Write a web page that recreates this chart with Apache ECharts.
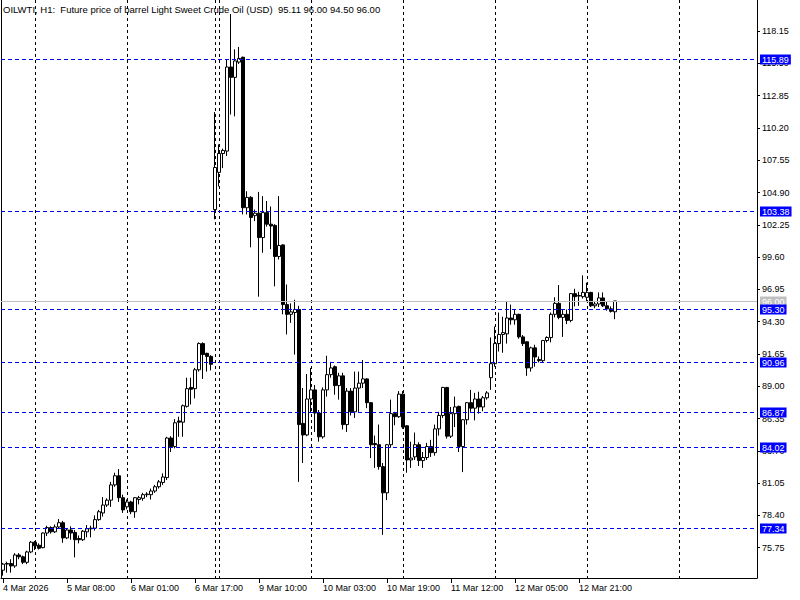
<!DOCTYPE html>
<html><head><meta charset="utf-8">
<script src="https://cdn.jsdelivr.net/npm/echarts@6/dist/echarts.min.js"></script>
<style>html,body{margin:0;padding:0;background:#fff}#c{width:800px;height:600px}</style>
</head><body><div id="c"></div>
<script>
const titleText = 'OILWTI, H1:  Future price of barrel Light Sweet Crude Oil (USD)  95.11 96.00 94.50 96.00';
// trading days: [day, first hour, last hour]
const days = [['4 Mar',15,22],['5 Mar',0,22],['6 Mar',0,21],['8 Mar',23,23],['9 Mar',0,22],['10 Mar',0,22],['11 Mar',0,22],['12 Mar',0,22],['13 Mar',0,22],['14 Mar',0,19]];
const firstLabel = '4 Mar 2026';
const xLabelTimes = ['4 Mar 15:00','5 Mar 08:00','6 Mar 01:00','6 Mar 17:00','9 Mar 10:00','10 Mar 03:00','10 Mar 19:00','11 Mar 12:00','12 Mar 05:00','12 Mar 21:00'];
const separators = ['5 Mar 00:00','6 Mar 00:00','8 Mar 23:00','9 Mar 00:00','10 Mar 00:00','11 Mar 00:00','12 Mar 00:00','13 Mar 00:00','14 Mar 00:00'];
const yTicks = [75.75,78.40,81.05,83.70,86.35,89.00,91.65,94.30,96.95,99.60,102.25,104.90,107.55,110.20,112.85,115.50,118.15];
const levels = [115.89,103.38,95.30,90.96,86.87,84.02,77.34];
const bidPrice = 96.00;

const opens = [73.9,74.4,74.45,74.25,75.15,75.0,74.55,75.4,76.2,75.95,75.75,76.95,77.4,77.05,77.45,77.8,76.55,77.2,77.0,76.5,76.4,77.05,77.3,77.35,78.05,78.6,79.25,79.65,80.9,81.65,79.85,79.1,79.5,78.7,79.7,79.8,80.1,80.1,80.4,80.75,81.1,81.5,84.75,84.05,86.15,86.05,87.35,88.9,88.8,90.35,92.5,91.7,91.45,
103.5,106.55,108.1,108.3,115.2,114.35,115.6,116.0,103.65,104.5,103.0,103.2,101.2,103.25,102.3,102.2,99.65,100.6,95.7,94.9,95.05,95.3,85.95,85.0,
87.95,88.7,86.8,84.85,88.7,89.95,90.6,89.05,89.85,85.85,88.6,86.9,88.85,89.25,89.6,87.65,84.3,84.2,82.4,80.25,84.2,86.75,86.5,
88.35,85.75,82.95,83.2,84.2,82.9,83.15,84.05,83.55,85.5,86.6,88.9,84.9,86.75,87.35,84.05,86.25,87.65,87.2,87.95,87.3,88.05,89.7,
90.85,92.5,93.25,93.3,94.6,94.45,94.9,93.05,92.65,90.5,92.15,91.2,91.1,92.75,93.0,94.9,95.8,94.65,94.9,94.4,96.6,96.45,96.35,
96.3,96.7,95.6,95.75,96.25,95.6,95.35,95.11];
const highs = [74.5,74.6,74.8,75.3,75.3,75.1,75.5,76.3,76.3,76.1,77.0,77.55,77.5,77.65,78.1,77.95,77.3,77.5,77.2,76.75,77.2,77.6,77.55,78.4,78.85,79.9,79.8,81.15,81.9,82.2,80.1,79.7,79.6,79.9,80.0,80.25,80.3,80.6,80.9,81.3,81.85,84.85,84.9,86.3,86.5,87.5,89.7,89.7,90.5,92.6,92.6,91.75,91.55,
111.5,108.85,108.5,115.85,119.55,116.65,116.85,116.05,105.0,104.6,103.5,104.95,104.6,104.2,103.75,102.3,104.6,100.65,97.35,95.8,96.1,95.6,88.85,90.0,
90.5,89.1,87.05,88.9,91.5,91.0,90.7,90.1,90.1,88.85,88.85,90.2,90.2,91.15,89.65,87.7,84.95,85.85,82.7,84.25,87.9,86.9,88.6,
88.6,85.8,84.45,85.2,84.4,83.6,84.35,84.6,85.85,86.9,88.95,88.95,87.3,88.15,87.4,86.3,87.7,88.7,88.45,88.55,88.2,88.6,93.0,
93.9,95.05,94.7,96.0,95.7,95.3,94.95,93.2,92.65,92.25,92.4,91.45,92.8,93.1,95.05,96.3,97.3,95.3,95.3,96.65,97.0,96.75,98.1,
97.5,96.75,95.95,96.7,96.7,95.95,95.55,96.0];
const lows = [73.45,73.7,73.7,74.1,74.8,74.4,74.4,75.3,75.55,75.6,75.7,76.7,76.9,76.95,77.35,76.15,76.45,76.4,74.95,76.1,76.3,76.6,76.6,77.15,77.95,78.3,79.1,79.1,80.75,79.5,78.6,78.9,78.5,78.2,79.3,79.6,79.9,79.7,80.25,80.6,80.9,81.3,83.6,83.9,84.85,84.85,87.25,87.5,88.0,90.2,89.6,90.2,90.3,
102.7,105.4,106.9,107.9,111.3,111.15,115.45,103.1,103.1,100.4,102.55,96.35,99.95,102.1,100.25,97.2,99.4,94.9,93.25,94.2,91.6,81.15,82.7,84.9,
86.8,85.25,84.45,84.7,88.15,89.7,88.3,87.9,85.45,85.25,86.6,86.4,86.9,88.85,87.2,83.1,82.3,82.15,76.8,79.65,83.95,85.8,86.4,
85.5,81.9,82.3,82.95,82.45,82.3,82.95,83.2,83.3,84.95,86.4,84.7,84.75,85.65,83.6,81.95,85.85,86.9,86.2,86.75,86.95,87.9,88.7,
90.6,91.85,91.75,92.5,94.05,94.05,92.9,92.3,89.85,90.2,90.6,90.95,90.95,92.6,92.6,94.65,94.5,93.05,94.1,94.25,95.55,95.6,96.2,
95.95,95.5,95.4,95.5,95.5,95.2,95.05,94.5];
const closes = [74.4,74.45,74.25,75.15,75.0,74.55,75.4,76.2,75.9,75.7,76.95,77.4,77.05,77.45,77.8,76.55,77.2,76.95,76.4,76.4,77.1,77.3,77.35,78.05,78.7,79.25,79.65,80.9,81.65,79.85,78.85,79.5,78.7,79.85,79.85,80.1,80.15,80.4,80.75,81.15,81.55,84.75,84.05,86.0,86.05,87.4,88.8,88.75,90.35,92.5,91.6,91.45,90.8,
106.95,108.1,108.35,115.2,114.35,115.7,115.9,103.65,104.5,102.85,103.2,101.2,103.25,102.3,102.15,99.65,100.55,95.7,94.9,95.1,95.3,85.85,85.0,87.95,
88.7,86.8,84.85,88.7,89.95,90.5,89.05,89.85,85.85,88.6,86.9,88.85,89.25,89.6,87.65,84.2,84.2,82.4,80.25,84.2,86.75,86.5,88.35,
85.65,82.95,83.1,84.2,82.9,83.15,84.05,83.55,85.5,86.6,88.9,84.9,86.75,87.3,84.05,86.25,87.65,87.2,87.95,87.3,88.05,88.45,90.85,
92.5,93.25,93.4,94.6,94.45,94.9,93.05,92.5,90.5,92.15,91.4,91.1,92.75,93.0,94.9,95.8,94.65,94.9,94.4,96.6,96.35,96.4,96.7,
96.7,95.6,95.75,96.25,95.6,95.35,95.15,96.0];

const categories = [];
days.forEach(([d, a, b]) => { for (let h = a; h <= b; h++) categories.push(d + ' ' + String(h).padStart(2, '0') + ':00'); });
const candles = opens.map((o, i) => [o, closes[i], lows[i], highs[i]]);

const FONT = "'Liberation Sans', Arial, sans-serif";
const YMIN = 73.26, YMAX = 120.70;
// horizontal price lines: [x placeholder, price, kind]
const hLines = [[0, bidPrice, 'bid']].concat(levels.map(v => [0, v, 'level']));
const vLines = separators.map(s => [s, YMIN]);

function renderHLine(params, api) {
  const cs = params.coordSys;
  const price = api.value(1);
  const isBid = hLines[params.dataIndex][2] === 'bid';
  const col = isBid ? 'rgb(192,192,192)' : 'rgb(0,0,255)';
  const y = Math.round(api.coord([0, price])[1]) + 0.5;
  return { type: 'group', children: [
    { type: 'line', shape: { x1: cs.x, y1: y, x2: cs.x + cs.width, y2: y },
      style: { stroke: col, lineWidth: 1, lineDash: isBid ? null : [4, 3], opacity: 1 }, z2: isBid ? 0 : 5 },
    { type: 'text', x: cs.x + cs.width + 3, y: y, z2: 10,
      style: { text: price.toFixed(2), fill: '#fff', backgroundColor: col, padding: [1, 2, 0, 2],
        fontSize: 9, fontFamily: FONT, verticalAlign: 'middle', align: 'left' } }
  ] };
}
function renderVLine(params, api) {
  const cs = params.coordSys;
  const x = Math.round(api.coord([api.value(0), YMIN])[0]) + 0.5;
  return { type: 'line', shape: { x1: x, y1: cs.y, x2: x, y2: cs.y + cs.height },
    style: { stroke: '#000', lineWidth: 1, lineDash: [3, 3] } };
}

const chart = echarts.init(document.getElementById('c'), null, { renderer: 'svg' });
chart.setOption({
  animation: false,
  backgroundColor: '#fff',
  title: { text: titleText, left: 3, top: 4, padding: 0, textStyle: { fontSize: 9.5, fontWeight: 'normal', color: '#000', fontFamily: FONT } },
  grid: { left: 1, right: 43, top: 0, bottom: 22, show: false },
  xAxis: {
    type: 'category', data: categories, boundaryGap: true,
    axisLine: { show: true, lineStyle: { color: '#000' } },
    axisTick: { show: true, alignWithLabel: true, length: 5, interval: (i, v) => xLabelTimes.includes(v), lineStyle: { color: '#000' } },
    axisLabel: { show: true, interval: (i, v) => xLabelTimes.includes(v), formatter: v => v === categories[0] ? firstLabel : v,
      align: 'left', margin: 5, color: '#000', fontSize: 9, fontFamily: FONT, hideOverlap: false },
    splitLine: { show: false }
  },
  yAxis: [{
    type: 'value', position: 'right', min: YMIN, max: YMAX, scale: true,
    splitLine: { show: false },
    axisLine: { show: true, lineStyle: { color: '#000' } },
    axisTick: { show: true, length: 3, customValues: yTicks, lineStyle: { color: '#000' } },
    axisLabel: { show: true, customValues: yTicks, formatter: v => Number(v).toFixed(2), color: '#000', fontSize: 9, fontFamily: FONT, margin: 5 }
  }, {
    type: 'value', position: 'left', min: YMIN, max: YMAX, scale: true,
    splitLine: { show: false }, axisTick: { show: false }, axisLabel: { show: false },
    axisLine: { show: true, lineStyle: { color: '#000' } }
  }],
  series: [{
    type: 'custom', data: vLines, renderItem: renderVLine, clip: false, silent: true, z: 1
  }, {
    type: 'candlestick', data: candles, barWidth: 3, z: 3,
    itemStyle: { color: '#fff', color0: '#000', borderColor: '#000', borderColor0: '#000', borderWidth: 1 }
  }, {
    type: 'custom', data: hLines, renderItem: renderHLine, clip: false, silent: true, z: 4
  }]
});
</script></body></html>
